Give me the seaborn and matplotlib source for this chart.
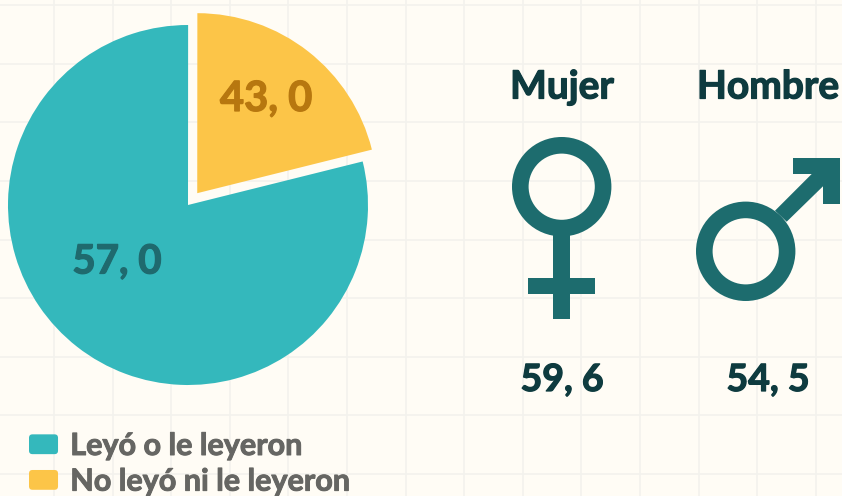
import matplotlib
matplotlib.use("Agg")
import matplotlib.pyplot as plt
import matplotlib.patheffects as pe
import seaborn as sns
from matplotlib.patches import Circle, Rectangle, Polygon, FancyBboxPatch
from matplotlib.legend_handler import HandlerPatch

# Data
categories = ["Leyó o le leyeron", "No leyó ni le leyeron"]
wedge_sizes = [78.9, 21.1]          # drawn proportions, as seen in the picture
wedge_labels = ["57, 0", "43, 0"]   # printed labels
gender_names = ["Mujer", "Hombre"]
gender_values = ["59, 6", "54, 5"]

BG = "#FFFCF5"
GRID = "#F3F2ED"
TEAL = "#34B8BC"
YELLOW = "#FCC548"
DARK = "#0E3B3F"
ICON = "#1D6C6E"
W, H = 842, 496

sns.set_theme(style="whitegrid", rc={
    "figure.facecolor": BG, "axes.facecolor": BG, "grid.color": GRID,
    "grid.linewidth": 1.2, "axes.edgecolor": BG,
})
plt.rcParams["font.family"] = ["Lato", "DejaVu Sans"]

fig = plt.figure(figsize=(W / 100, H / 100), dpi=100)
ax = fig.add_axes([0, 0, 1, 1])
ax.set_xlim(0, W)
ax.set_ylim(0, H)
ax.set_xticks([54, 112.6, 171.2, 229.6, 288.3, 347, 405.6, 464, 522.7, 581.4, 640, 698.7, 757.4, 816])
ax.set_yticks([H - v for v in [5.3, 63.7, 122.3, 181, 239.6, 298.2, 356.8, 415.2, 474]])
ax.tick_params(left=False, bottom=False, labelleft=False, labelbottom=False)
ax.grid(True, zorder=0)
ax.set_axisbelow(True)
for s in ax.spines.values():
    s.set_visible(False)

def Y(v):
    return H - v

def bold(t, color, w=0.9):
    t.set_path_effects([pe.withStroke(linewidth=w, foreground=color)])
    return t

# Pie
wedges, _ = ax.pie(
    wedge_sizes, colors=[TEAL, YELLOW], radius=180, center=(188, Y(205)),
    startangle=14, counterclock=False, explode=[0, 15], frame=True,
    wedgeprops={"linewidth": 0},
)
ax.set_xlim(0, W)
ax.set_ylim(0, H)
ax.set_aspect("equal")
bold(ax.text(117, Y(262), wedge_labels[0], color="#1F6A6E", fontsize=29, fontweight="bold",
             ha="center", va="center"), "#1F6A6E")
bold(ax.text(266, Y(99), wedge_labels[1], color="#B7770F", fontsize=30, fontweight="bold",
             ha="center", va="center"), "#B7770F")

# Gender headers and values
for x, name, val in zip([562, 768], gender_names, gender_values):
    bold(ax.text(x, Y(87), name, color=DARK, fontsize=28, fontweight="bold",
                 ha="center", va="center"), DARK)
    bold(ax.text(x, Y(380), val, color=DARK, fontsize=27, fontweight="bold",
                 ha="center", va="center"), DARK)

# Female icon
fx, fy = 561.7, 186.7
ax.add_patch(Rectangle((fx - 8.3, Y(319)), 16.6, 319 - 232, color=ICON, lw=0, zorder=3))
ax.add_patch(Rectangle((528.3, Y(294.3)), 66.4, 16.6, color=ICON, lw=0, zorder=3))
ax.add_patch(Circle((fx, Y(fy)), 41.4, fill=False, ec=ICON, lw=16.6 * 0.72, zorder=4))

# Male icon
mx, my = 745.7, 251.3
shaft = [(775, 210.7), (811.7, 174), (823.3, 174), (823.3, 186), (786.7, 221.7)]
ax.add_patch(Polygon([(a, Y(b)) for a, b in shaft], color=ICON, lw=0, zorder=3))
ax.add_patch(Rectangle((793, Y(174)), 46.7, 16.3, color=ICON, lw=0, zorder=3))
ax.add_patch(Rectangle((823.3, Y(204.3)), 16.4, 46.6, color=ICON, lw=0, zorder=3))
ax.add_patch(Circle((mx, Y(my)), 41.4, fill=False, ec=ICON, lw=16.6 * 0.72, zorder=4))

# Legend
class RoundHandler(HandlerPatch):
    def create_artists(self, legend, orig, xd, yd, width, height, fontsize, trans):
        p = FancyBboxPatch((-xd + 2, -yd + 2), width - 4, height - 4,
                           boxstyle="round,pad=2,rounding_size=2.5",
                           fc=orig.get_facecolor(), ec="none", transform=trans)
        return [p]

leg = ax.legend(
    wedges, categories, loc="upper left", bbox_to_anchor=(29 / W, 1 - 432 / H),
    bbox_transform=ax.transAxes, frameon=False, fontsize=22, borderaxespad=0, borderpad=0,
    handlelength=0.95, handleheight=0.62, handletextpad=0.40, labelspacing=0.25,
    handler_map={type(wedges[0]): RoundHandler()},
)
for t in leg.get_texts():
    t.set_color("#666663")
    t.set_fontweight("bold")
    bold(t, "#666663", 0.7)

fig.savefig("out.png", dpi=100, facecolor=BG)
